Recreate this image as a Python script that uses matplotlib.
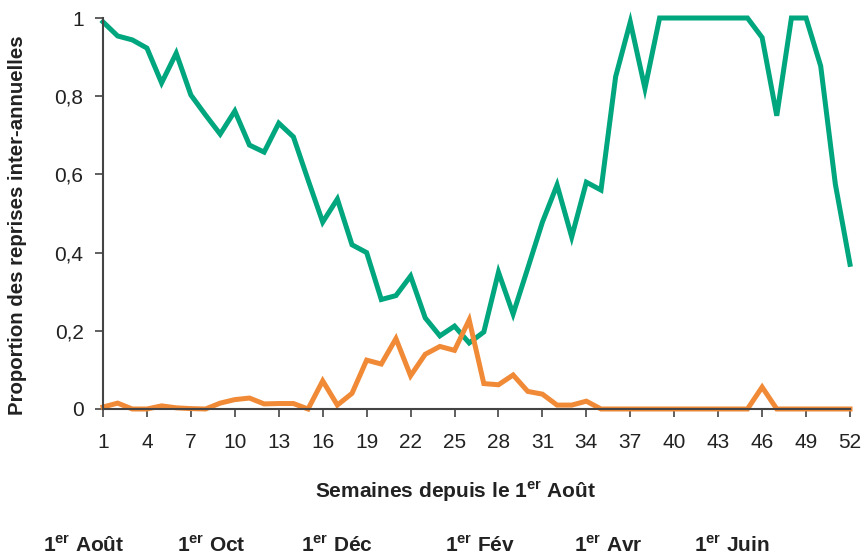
import matplotlib.pyplot as plt

plt.rcParams['font.family'] = ['Liberation Sans', 'DejaVu Sans']
plt.rcParams['mathtext.fontset'] = 'custom'
plt.rcParams['mathtext.rm'] = 'Liberation Sans:bold'

weeks = list(range(1, 53))

# proportion of inter-annual resumptions (green)
green_vals = [0.99, 0.954, 0.944, 0.923, 0.834, 0.91, 0.803, 0.752, 0.703, 0.762,
              0.675, 0.657, 0.731, 0.696, 0.586, 0.478, 0.537, 0.42, 0.40, 0.28,
              0.29, 0.34, 0.233, 0.187, 0.212, 0.169, 0.197, 0.35, 0.243, 0.36,
              0.478, 0.573, 0.44, 0.58, 0.56, 0.85, 0.99, 0.82, 1.0, 1.0,
              1.0, 1.0, 1.0, 1.0, 1.0, 0.95, 0.75, 1.0, 1.0, 0.877,
              0.575, 0.37]
# orange series
orange_vals = [0.005, 0.015, 0.0, 0.0, 0.008, 0.003, 0.001, 0.0, 0.015, 0.024,
               0.028, 0.013, 0.014, 0.014, 0.0, 0.072, 0.01, 0.04, 0.125, 0.115,
               0.18, 0.085, 0.14, 0.16, 0.15, 0.228, 0.065, 0.062, 0.087, 0.045,
               0.038, 0.01, 0.01, 0.02, 0.0, 0.0, 0.0, 0.0, 0.0, 0.0,
               0.0, 0.0, 0.0, 0.0, 0.0, 0.056, 0.0, 0.0, 0.0, 0.0,
               0.0, 0.0]

xtick_vals = list(range(1, 53, 3))
ytick_vals = [0, 0.2, 0.4, 0.6, 0.8, 1]
ytick_labels = ["0", "0,2", "0,4", "0,6", "0,8", "1"]

month_labels = ["Août", "Oct", "Déc", "Fév", "Avr", "Juin"]
month_xpix = [84, 211, 337, 480, 608, 732]

W, H = 864, 556
fig = plt.figure(figsize=(W / 100, H / 100), dpi=100)
ax = fig.add_axes([103 / W, 1 - 409 / H, 747 / W, 391 / H])

ax.plot(weeks, green_vals, color='#00A67E', linewidth=3.6, clip_on=False,
        solid_joinstyle='miter')
ax.plot(weeks, orange_vals, color='#F08A37', linewidth=3.6, clip_on=False,
        solid_joinstyle='miter')

ax.set_xlim(1, 52)
ax.set_ylim(0, 1)
ax.set_xticks(xtick_vals)
ax.set_yticks(ytick_vals)
ax.set_yticklabels(ytick_labels)
ax.tick_params(axis='both', labelsize=15, color='#444444', width=1.2, length=5.5,
               labelcolor='#222222')
ax.tick_params(axis='x', pad=12)
ax.tick_params(axis='y', pad=8.5)
for s in ['top', 'right']:
    ax.spines[s].set_visible(False)
for s in ['left', 'bottom']:
    ax.spines[s].set_color('#444444')
    ax.spines[s].set_linewidth(1.5)

fig.text(455 / W, 1 - 492 / H, r"Semaines depuis le 1$^{\mathrm{er}}$ Août",
         ha='center', va='center', fontsize=15, fontweight='bold', color='#222222')
fig.text(18 / W, 1 - 225 / H, "Proportion des reprises inter-annuelles",
         ha='center', va='center', rotation=90, fontsize=14.7, fontweight='bold',
         color='#222222')

for lab, xp in zip(month_labels, month_xpix):
    fig.text(xp / W, 1 - 552 / H, r"1$^{\mathrm{er}}$ " + lab,
             ha='center', va='baseline', fontsize=15, fontweight='bold', color='#222222')

fig.savefig("out.png", dpi=100, facecolor="white")
